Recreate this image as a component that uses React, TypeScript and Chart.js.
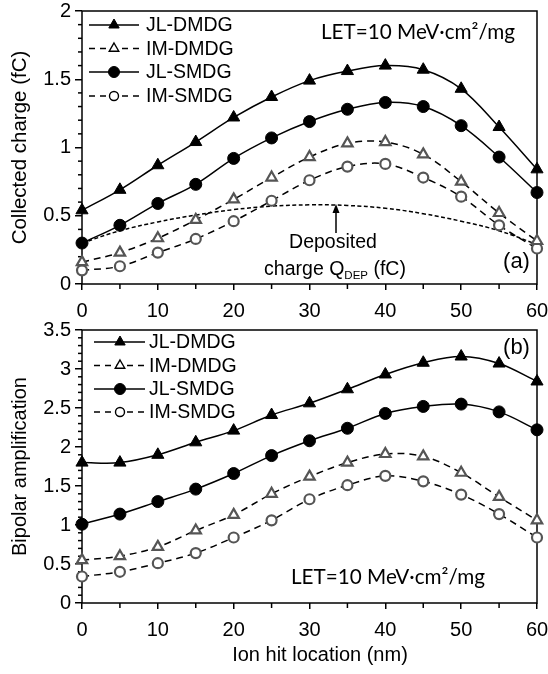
import React, { useEffect, useRef } from 'react';
import { Chart, registerables } from 'chart.js';

Chart.register(...registerables);

// ---------- data ----------
const xLocations = [0, 5, 10, 15, 20, 25, 30, 35, 40, 45, 50, 55, 60];
const seriesLabels = ['JL-DMDG', 'IM-DMDG', 'JL-SMDG', 'IM-SMDG'];

const chargeJLDMDG = [0.54, 0.69, 0.87, 1.04, 1.22, 1.37, 1.49, 1.56, 1.6, 1.57, 1.43, 1.15, 0.84];
const chargeIMDMDG = [0.16, 0.23, 0.335, 0.47, 0.62, 0.78, 0.93, 1.03, 1.04, 0.95, 0.75, 0.52, 0.315];
const chargeJLSMDG = [0.3, 0.43, 0.59, 0.73, 0.92, 1.07, 1.19, 1.28, 1.33, 1.3, 1.16, 0.93, 0.67];
const chargeIMSMDG = [0.1, 0.13, 0.23, 0.33, 0.46, 0.61, 0.76, 0.86, 0.88, 0.78, 0.64, 0.43, 0.26];
const depositedCharge = [0.3, 0.39, 0.455, 0.505, 0.545, 0.57, 0.58, 0.575, 0.555, 0.515, 0.46, 0.39, 0.29];

const ampJLDMDG = [1.8, 1.8, 1.9, 2.06, 2.21, 2.41, 2.56, 2.74, 2.93, 3.08, 3.16, 3.07, 2.84];
const ampIMDMDG = [0.55, 0.6, 0.72, 0.93, 1.13, 1.4, 1.62, 1.8, 1.91, 1.88, 1.67, 1.36, 1.06];
const ampJLSMDG = [1.01, 1.14, 1.3, 1.46, 1.66, 1.89, 2.08, 2.24, 2.43, 2.52, 2.55, 2.45, 2.22];
const ampIMSMDG = [0.34, 0.4, 0.51, 0.64, 0.84, 1.06, 1.33, 1.51, 1.63, 1.56, 1.39, 1.14, 0.84];

const xTickValues = [0, 10, 20, 30, 40, 50, 60];
const xMinorTickValues = [5, 15, 25, 35, 45, 55];
const chargeTickValues = [0, 0.5, 1, 1.5, 2];
const ampTickValues = [0, 0.5, 1, 1.5, 2, 2.5, 3, 3.5];

const chargeAxisTitle = 'Collected charge (fC)';
const ampAxisTitle = 'Bipolar amplification';
const xAxisTitle = 'Ion hit location (nm)';
const letText = 'LET=10 MeV·cm²/mg';
const depositedLine1 = 'Deposited';
const depositedLine2 = ['charge Q', 'DEP', ' (fC)'];

// ---------- styling helpers ----------
const ARIAL = '"Liberation Sans", Arial, sans-serif';
const OPEN_STROKE = '#555555';

function seriesStyle(label: string) {
  const dashed = label.startsWith('IM');
  const tri = label.endsWith('DMDG');
  return { dashed, tri };
}

function seriesDataset(label: string, values: number[]) {
  const { dashed, tri } = seriesStyle(label);
  return {
    label,
    data: values.map((y, i) => ({ x: xLocations[i], y })),
    borderColor: '#000',
    borderWidth: 1.5,
    borderDash: dashed ? [7, 5] : [],
    tension: 0.35,
    fill: false,
    clip: false as any,
    pointStyle: tri ? 'triangle' : 'circle',
    pointRadius: tri ? (dashed ? 6 : 7) : dashed ? 5 : 6,
    pointBackgroundColor: dashed ? '#fff' : '#000',
    pointBorderColor: dashed ? OPEN_STROKE : '#000',
    pointBorderWidth: dashed ? 2.2 : 1,
  };
}

function drawShape(ctx: CanvasRenderingContext2D, tri: boolean, x: number, y: number, r: number, fill: string, stroke: string, lw: number) {
  ctx.beginPath();
  if (tri) {
    ctx.moveTo(x, y - r);
    ctx.lineTo(x + r * 0.866, y + r * 0.5);
    ctx.lineTo(x - r * 0.866, y + r * 0.5);
    ctx.closePath();
  } else {
    ctx.arc(x, y, r, 0, Math.PI * 2);
  }
  ctx.setLineDash([]);
  ctx.fillStyle = fill;
  ctx.fill();
  ctx.lineWidth = lw;
  ctx.strokeStyle = stroke;
  ctx.stroke();
}

function drawLegend(ctx: CanvasRenderingContext2D, g: { x0: number; x1: number; mx: number; tx: number; ys: number[] }) {
  ctx.save();
  seriesLabels.forEach((label, i) => {
    const { dashed, tri } = seriesStyle(label);
    const y = g.ys[i];
    ctx.beginPath();
    ctx.setLineDash(dashed ? [6, 5] : []);
    ctx.lineWidth = 1.5;
    ctx.strokeStyle = '#000';
    ctx.moveTo(g.x0, y);
    ctx.lineTo(g.x1, y);
    ctx.stroke();
    const r = tri ? (dashed ? 5.5 : 6) : dashed ? 4.5 : 5.5;
    drawShape(ctx, tri, g.mx, y, r, dashed ? '#fff' : '#000', '#000', dashed ? 1.4 : 1);
    ctx.fillStyle = '#000';
    ctx.font = `19.5px ${ARIAL}`;
    ctx.textAlign = 'left';
    ctx.textBaseline = 'middle';
    ctx.fillText(label, g.tx, y + 1);
  });
  ctx.restore();
}

function drawFitText(ctx: CanvasRenderingContext2D, text: string, x: number, y: number, width: number) {
  ctx.save();
  ctx.font = '20px Lato';
  const w = ctx.measureText(text).width;
  const size = (20 * width) / w;
  ctx.font = `${size.toFixed(2)}px Lato`;
  ctx.fillStyle = '#000';
  ctx.textAlign = 'left';
  ctx.textBaseline = 'middle';
  ctx.fillText(text, x, y);
  ctx.restore();
}

function drawCenteredText(ctx: CanvasRenderingContext2D, text: string, x: number, y: number, size: number) {
  ctx.save();
  ctx.font = `${size}px ${ARIAL}`;
  ctx.fillStyle = '#000';
  ctx.textAlign = 'center';
  ctx.textBaseline = 'middle';
  ctx.fillText(text, x, y);
  ctx.restore();
}

const framePlugin = {
  id: 'frame',
  beforeDatasetsDraw(chart: any) {
    const { ctx, chartArea: a } = chart;
    ctx.save();
    ctx.strokeStyle = '#000';
    ctx.lineWidth = 1.5;
    ctx.setLineDash([]);
    ctx.strokeRect(a.left, a.top, a.right - a.left, a.bottom - a.top);
    // minor ticks
    const ys = chart.scales.y;
    const xs = chart.scales.x;
    ctx.lineWidth = 1.5;
    const steps = Math.round(ys.max * 10);
    for (let k = 0; k <= steps; k++) {
      if (k % 5 === 0) continue;
      const py = ys.getPixelForValue(k / 10);
      ctx.beginPath();
      ctx.moveTo(a.left - 4, py);
      ctx.lineTo(a.left, py);
      ctx.stroke();
    }
    xMinorTickValues.forEach((v) => {
      const px = xs.getPixelForValue(v);
      ctx.beginPath();
      ctx.moveTo(px, a.bottom);
      ctx.lineTo(px, a.bottom + 5);
      ctx.stroke();
    });
    ctx.restore();
  },
};

function makeOptions(p: {
  yMax: number;
  yTicks: number[];
  yTitle: string;
  yTitleSize: number;
  yTitlePad: number;
  padTop: number;
  xHeight: number;
}) {
  return {
    responsive: false,
    maintainAspectRatio: false,
    animation: false as const,
    events: [] as any[],
    layout: { padding: { left: 0, top: p.padTop, right: 11, bottom: 0 }, autoPadding: false },
    plugins: { legend: { display: false }, tooltip: { enabled: false } },
    scales: {
      x: {
        type: 'linear' as const,
        min: 0,
        max: 60,
        afterBuildTicks: (s: any) => {
          s.ticks = xTickValues.map((v) => ({ value: v }));
        },
        afterFit: (s: any) => {
          s.height = p.xHeight;
          s.paddingLeft = 0;
          s.paddingRight = 0;
        },
        ticks: {
          color: '#000',
          font: { family: ARIAL, size: 20 },
          padding: 9,
          maxRotation: 0,
          autoSkip: false,
          callback: (v: any) => `${Number(v)}`,
        },
        grid: { drawOnChartArea: false, drawTicks: true, tickLength: 6, color: '#000', lineWidth: 1.5 },
        border: { display: false },
      },
      y: {
        type: 'linear' as const,
        min: 0,
        max: p.yMax,
        afterBuildTicks: (s: any) => {
          s.ticks = p.yTicks.map((v) => ({ value: v }));
        },
        afterFit: (s: any) => {
          s.width = 82;
          s.paddingTop = 0;
          s.paddingBottom = 0;
        },
        ticks: {
          color: '#000',
          font: { family: ARIAL, size: 20 },
          padding: 4,
          autoSkip: false,
          callback: (v: any) => `${Number(v)}`,
        },
        grid: { drawOnChartArea: false, drawTicks: true, tickLength: 7, color: '#000', lineWidth: 1.5 },
        border: { display: false },
        title: {
          display: true,
          text: p.yTitle,
          color: '#000',
          font: { family: ARIAL, size: p.yTitleSize },
          padding: { top: p.yTitlePad, bottom: 0 },
        },
      },
    },
  };
}

export default function App() {
  const topRef = useRef<HTMLCanvasElement>(null);
  const botRef = useRef<HTMLCanvasElement>(null);

  useEffect(() => {
    const topAnnotations = {
      id: 'topAnnotations',
      afterDraw(chart: any) {
        const ctx: CanvasRenderingContext2D = chart.ctx;
        drawLegend(ctx, { x0: 89, x1: 139, mx: 114, tx: 146, ys: [25, 48.5, 72, 96] });
        drawFitText(ctx, letText, 321, 32, 194);
        drawCenteredText(ctx, '(a)', 516.5, 262, 22);
        drawCenteredText(ctx, depositedLine1, 333, 243, 19.5);
        // charge Q_DEP (fC)
        ctx.save();
        ctx.fillStyle = '#000';
        ctx.textBaseline = 'alphabetic';
        ctx.textAlign = 'left';
        const mainFont = `19.5px ${ARIAL}`;
        const subFont = `11.5px ${ARIAL}`;
        ctx.font = mainFont;
        const w1 = ctx.measureText(depositedLine2[0]).width;
        const w3 = ctx.measureText(depositedLine2[2]).width;
        ctx.font = subFont;
        const w2 = ctx.measureText(depositedLine2[1]).width;
        let x = 335 - (w1 + w2 + w3) / 2;
        const base = 275;
        ctx.font = mainFont;
        ctx.fillText(depositedLine2[0], x, base);
        x += w1;
        ctx.font = subFont;
        ctx.fillText(depositedLine2[1], x, base + 4);
        x += w2;
        ctx.font = mainFont;
        ctx.fillText(depositedLine2[2], x, base);
        // arrow
        const ax = 336;
        ctx.strokeStyle = '#000';
        ctx.lineWidth = 1.5;
        ctx.setLineDash([]);
        ctx.beginPath();
        ctx.moveTo(ax, 233);
        ctx.lineTo(ax, 211);
        ctx.stroke();
        ctx.beginPath();
        ctx.moveTo(ax, 204);
        ctx.lineTo(ax + 3.5, 213);
        ctx.lineTo(ax - 3.5, 213);
        ctx.closePath();
        ctx.fill();
        ctx.restore();
      },
    };

    const botAnnotations = {
      id: 'botAnnotations',
      afterDraw(chart: any) {
        const ctx: CanvasRenderingContext2D = chart.ctx;
        drawLegend(ctx, { x0: 94, x1: 145, mx: 120, tx: 149, ys: [42, 65.5, 89, 112] });
        drawFitText(ctx, letText, 291, 277, 194);
        drawCenteredText(ctx, '(b)', 516.5, 48, 22);
        drawCenteredText(ctx, xAxisTitle, 320, 355, 20);
      },
    };

    const topChart = new Chart(topRef.current!, {
      type: 'line',
      data: {
        datasets: [
          seriesDataset(seriesLabels[0], chargeJLDMDG),
          seriesDataset(seriesLabels[1], chargeIMDMDG),
          seriesDataset(seriesLabels[2], chargeJLSMDG),
          seriesDataset(seriesLabels[3], chargeIMSMDG),
          {
            label: 'Deposited charge',
            data: depositedCharge.map((y, i) => ({ x: xLocations[i], y })),
            borderColor: '#000',
            borderWidth: 1.5,
            borderDash: [4, 2.5],
            tension: 0.4,
            pointRadius: 0,
            fill: false,
          } as any,
        ],
      },
      options: makeOptions({
        yMax: 2,
        yTicks: chargeTickValues,
        yTitle: chargeAxisTitle,
        yTitleSize: 20.5,
        yTitlePad: 8,
        padTop: 11,
        xHeight: 46,
      }) as any,
      plugins: [framePlugin, topAnnotations],
    });

    const botChart = new Chart(botRef.current!, {
      type: 'line',
      data: {
        datasets: [
          seriesDataset(seriesLabels[0], ampJLDMDG),
          seriesDataset(seriesLabels[1], ampIMDMDG),
          seriesDataset(seriesLabels[2], ampJLSMDG),
          seriesDataset(seriesLabels[3], ampIMSMDG),
        ] as any,
      },
      options: makeOptions({
        yMax: 3.5,
        yTicks: ampTickValues,
        yTitle: ampAxisTitle,
        yTitleSize: 20,
        yTitlePad: 8,
        padTop: 30,
        xHeight: 71,
      }) as any,
      plugins: [framePlugin, botAnnotations],
    });

    return () => {
      topChart.destroy();
      botChart.destroy();
    };
  }, []);

  return (
    <div style={{ position: 'absolute', left: 0, top: 0, width: 548, height: 674, background: '#fff', overflow: 'hidden' }}>
      <canvas ref={topRef} width={548} height={330} style={{ position: 'absolute', left: 0, top: 0, width: 548, height: 330 }} />
      <canvas ref={botRef} width={548} height={374} style={{ position: 'absolute', left: 0, top: 300, width: 548, height: 374 }} />
    </div>
  );
}
